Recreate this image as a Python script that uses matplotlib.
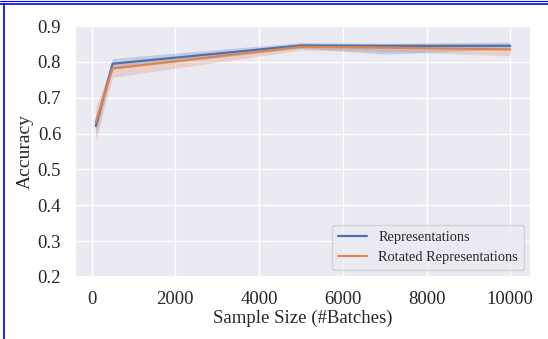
import matplotlib
matplotlib.use('Agg')
import matplotlib.pyplot as plt
from matplotlib.lines import Line2D
import seaborn as sns

# Sample sizes (#batches)
sizes = [100, 500, 5000, 7000, 10000]

# Representations: mean and band
rep_mean = [0.621, 0.795, 0.846, 0.845, 0.845]
rep_low = [0.595, 0.780, 0.838, 0.822, 0.836]
rep_high = [0.648, 0.810, 0.854, 0.852, 0.855]

# Rotated Representations: mean and band
rot_mean = [0.632, 0.782, 0.842, 0.840, 0.835]
rot_low = [0.580, 0.757, 0.833, 0.830, 0.817]
rot_high = [0.675, 0.795, 0.850, 0.850, 0.849]

sns.set_theme(style='darkgrid')
plt.rcParams['font.family'] = ['Liberation Serif', 'DejaVu Serif']

fig = plt.figure(figsize=(5.48, 3.39), dpi=100)
ax = fig.add_axes([0.137, 0.183, 0.832, 0.740])

c_rep = '#4c72b0'
c_rot = '#dd8452'
ax.fill_between(sizes, rep_low, rep_high, color=c_rep, alpha=0.25, linewidth=0)
ax.fill_between(sizes, rot_low, rot_high, color=c_rot, alpha=0.25, linewidth=0)
ax.plot(sizes, rep_mean, color=c_rep, linewidth=1.6, label='Representations')
ax.plot(sizes, rot_mean, color=c_rot, linewidth=1.6, label='Rotated Representations')

ax.set_xlim(-395, 10495)
ax.set_ylim(0.2, 0.9)
ax.set_xticks([0, 2000, 4000, 6000, 8000, 10000])
ax.set_yticks([0.2, 0.3, 0.4, 0.5, 0.6, 0.7, 0.8, 0.9])
ax.tick_params(labelsize=13.5, pad=4)
ax.set_xlabel('Sample Size (#Batches)', fontsize=13.5, labelpad=1)
ax.set_ylabel('Accuracy', fontsize=14, labelpad=3)
ax.legend(loc='lower right', fontsize=10.4)

# blue frame seen along the top and left edges of the picture
fig.add_artist(Line2D([0, 1], [1 - 1.3 / 339, 1 - 1.3 / 339], color='#0000ff', linewidth=0.8))
fig.add_artist(Line2D([0, 1], [1 - 3.7 / 339, 1 - 3.7 / 339], color='#0000ff', linewidth=1.2))
fig.add_artist(Line2D([4.3 / 548, 4.3 / 548], [0, 1 - 3.7 / 339], color='#0000ff', linewidth=1.2))

fig.savefig('out.png', dpi=100)
